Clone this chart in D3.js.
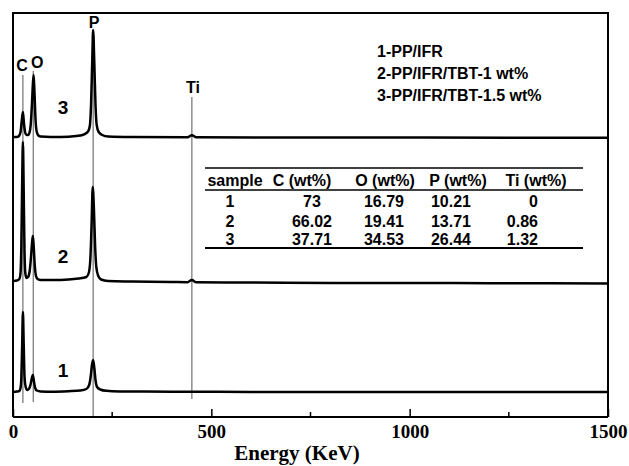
<!DOCTYPE html>
<html>
<head>
<meta charset="utf-8">
<script src="https://cdn.jsdelivr.net/npm/d3@7"></script>
<style>
  body { margin: 0; background: #fff; }
  svg { display: block; }
</style>
</head>
<body>
<script>
// x axis
const energyTicks = [0, 500, 1000, 1500];
const energyMinorTicks = [250, 750, 1250];

// spectra: [energy (keV), counts above own baseline]
const spectrum1 = [[0,0],[10,0.5],[16,1],[19,4],[21,14],[23,45],[25,80],[27,48],[29,16],[32,5],[36,2],[40,3],[44,7],[47,13],[50,17],[53,10],[56,4],[60,1.5],[70,0.5],[100,0.3],[140,0.8],[170,1.5],[185,3],[192,7],[196,16],[199,27],[202,32],[205,24],[208,12],[212,5],[220,2.5],[235,1.2],[270,0.6],[330,0.4],[451,0.3],[600,0.1],[900,0],[1200,0],[1500,0]];
const spectrum2 = [[0,0],[10,0.5],[16,2],[19,8],[21,35],[23,95],[25,139],[27,90],[29,30],[31,8],[34,3],[38,4],[42,10],[45,22],[48,38],[50,45],[52,36],[55,15],[58,5],[62,2],[70,1],[100,1],[140,1.5],[165,2.5],[185,4],[191,8],[195,22],[198,55],[201,94],[204,72],[207,35],[210,14],[215,5],[222,1.5],[240,0],[300,-0.5],[400,-1],[440,-1.2],[451,1],[462,-1.3],[600,-1.5],[800,-2],[1000,-2],[1200,-2.2],[1500,-2.5]];
const spectrum3 = [[0,0],[10,0],[15,1],[19,5],[22,16],[25,25],[28,12],[31,4],[34,2],[38,2],[42,5],[45,14],[48,35],[50,52],[52,62],[54,46],[57,16],[60,5],[64,1.5],[70,0.5],[120,0],[160,1],[175,2],[185,4],[190,6],[194,12],[197,35],[200,80],[202,107],[205,74],[208,32],[211,12],[216,5],[225,2],[240,0.5],[300,0],[440,-0.3],[451,1.8],[462,-0.3],[700,-0.5],[1000,-0.5],[1500,-0.8]];
const spectra = [spectrum1, spectrum2, spectrum3];
const spectrumLabels = ["1", "2", "3"];
const spectrumOffsets = [25, 136, 280];

// element marker lines
const elements = ["C", "O", "P", "Ti"];
const elementEnergy = [25, 51, 202, 451];

// legend + table
const sampleNames = ["1-PP/IFR", "2-PP/IFR/TBT-1 wt%", "3-PP/IFR/TBT-1.5 wt%"];
const tableHeader = ["sample", "C (wt%)", "O (wt%)", "P (wt%)", "Ti (wt%)"];
const tableRows = [
  ["1", "73", "16.79", "10.21", "0"],
  ["2", "66.02", "19.41", "13.71", "0.86"],
  ["3", "37.71", "34.53", "26.44", "1.32"]
];

const width = 629, height = 466;
const sans = "'Liberation Sans', Arial, sans-serif";
const serif = "'Liberation Serif', 'Times New Roman', serif";

const x = d3.scaleLinear().domain([0, 1500]).range([13, 608]);
const y = d3.scaleLinear().domain([0, 404]).range([417, 13]);

const svg = d3.select("body").append("svg")
    .attr("width", width)
    .attr("height", height);

// element lines (behind spectra)
const markTop = [75, 71, 31, 97];
const markBottom = [403, 402, 417, 399];
svg.append("g")
    .attr("stroke", "#555")
    .attr("stroke-width", 1)
  .selectAll("line")
  .data(elements)
  .join("line")
    .attr("x1", (d, i) => x(elementEnergy[i]))
    .attr("x2", (d, i) => x(elementEnergy[i]))
    .attr("y1", (d, i) => markTop[i])
    .attr("y2", (d, i) => markBottom[i]);

const labelDx = [-1, 4, 1, 1];
const labelY = [71, 68, 28, 93];
svg.append("g")
    .attr("font-family", sans)
    .attr("font-weight", "bold")
    .attr("font-size", 16)
    .attr("text-anchor", "middle")
  .selectAll("text")
  .data(elements)
  .join("text")
    .attr("x", (d, i) => x(elementEnergy[i]) + labelDx[i])
    .attr("y", (d, i) => labelY[i])
    .text(d => d);

// spectra
const line = d3.line()
    .curve(d3.curveMonotoneX);

svg.append("g")
    .attr("fill", "none")
    .attr("stroke", "#000")
    .attr("stroke-width", 2.5)
    .attr("stroke-linejoin", "round")
  .selectAll("path")
  .data(spectra)
  .join("path")
    .attr("d", (s, i) => line(s.map(p => [x(p[0]), y(p[1] + spectrumOffsets[i])])));

const numY = [377, 263, 114];
svg.append("g")
    .attr("font-family", sans)
    .attr("font-weight", "bold")
    .attr("font-size", 19)
    .attr("text-anchor", "middle")
  .selectAll("text")
  .data(spectrumLabels)
  .join("text")
    .attr("x", 63)
    .attr("y", (d, i) => numY[i])
    .text(d => d);

// frame
svg.append("path")
    .attr("fill", "none")
    .attr("stroke", "#000")
    .attr("stroke-width", 2)
    .attr("d", `M${x(0)},${y(0)} V${y(404)} H${x(1500)} V${y(0)}`);

// x axis with inward ticks
const xAxis = svg.append("g")
    .attr("transform", `translate(0,${y(0)})`)
    .call(d3.axisBottom(x).tickValues(energyTicks).tickSize(-8).tickFormat(d3.format("d")));
xAxis.select(".domain").attr("stroke-width", 2).attr("d", `M${x(0)},0H${x(1500)}`);
xAxis.selectAll(".tick line").attr("stroke-width", 1.5);
xAxis.selectAll(".tick text")
    .attr("font-family", serif)
    .attr("font-weight", "bold")
    .attr("font-size", 19)
    .attr("fill", "#000")
    .attr("y", 8);
svg.append("g")
    .attr("transform", `translate(0,${y(0)})`)
  .selectAll("line")
  .data(energyMinorTicks)
  .join("line")
    .attr("x1", d => x(d)).attr("x2", d => x(d))
    .attr("y1", 0).attr("y2", -5)
    .attr("stroke", "#000")
    .attr("stroke-width", 1.5);

svg.append("text")
    .attr("x", 297)
    .attr("y", 460)
    .attr("text-anchor", "middle")
    .attr("font-family", serif)
    .attr("font-weight", "bold")
    .attr("font-size", 21)
    .text("Energy (KeV)");

// legend
svg.append("g")
    .attr("font-family", sans)
    .attr("font-weight", "bold")
    .attr("font-size", 16)
  .selectAll("text")
  .data(sampleNames)
  .join("text")
    .attr("x", 377)
    .attr("y", (d, i) => 57 + i * 22)
    .text(d => d);

// composition table
const table = svg.append("g")
    .attr("font-family", sans)
    .attr("font-weight", "bold")
    .attr("font-size", 16);
const headX = [235, 302, 385, 458, 536];
const colX = [230, 312, 384, 451, 538];
const colAnchor = ["middle", "middle", "middle", "middle", "end"];
const rowY = [207, 227, 245];

table.selectAll("text.head")
  .data(tableHeader)
  .join("text")
    .attr("class", "head")
    .attr("x", (d, i) => headX[i])
    .attr("y", 186)
    .attr("text-anchor", "middle")
    .text(d => d);

tableRows.forEach((row, r) => {
  table.selectAll(`text.r${r}`)
    .data(row)
    .join("text")
      .attr("class", `r${r}`)
      .attr("x", (d, i) => colX[i])
      .attr("y", rowY[r])
      .attr("text-anchor", (d, i) => colAnchor[i])
      .text(d => d);
});

const ruleY = [168, 190, 248];
const ruleW = [1.5, 1.5, 2];
table.selectAll("line")
  .data(ruleY)
  .join("line")
    .attr("x1", 205).attr("x2", 583)
    .attr("y1", d => d).attr("y2", d => d)
    .attr("stroke", "#000")
    .attr("stroke-width", (d, i) => ruleW[i]);
</script>
</body>
</html>
